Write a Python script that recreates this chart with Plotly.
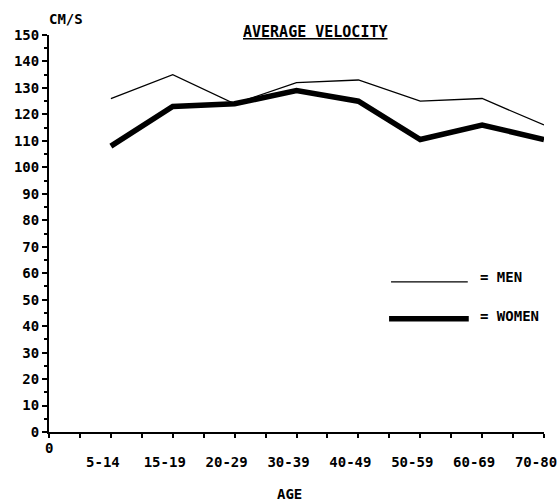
import plotly.graph_objects as go

age_groups = ["5-14", "15-19", "20-29", "30-39", "40-49", "50-59", "60-69", "70-80"]
men = [126, 135, 124, 132, 133, 125, 126, 116]
women = [108, 123, 124, 129, 125, 110.5, 116, 110.5]
y_ticks = list(range(0, 151, 10))

xpos = list(range(1, len(age_groups) + 1))
FONT = "DejaVu Sans Mono"
F = dict(family=FONT, size=14, color="black", weight="bold")

fig = go.Figure()
fig.add_trace(go.Scatter(x=xpos, y=men, mode="lines",
                         line=dict(color="black", width=1.3), name="MEN"))
fig.add_trace(go.Scatter(x=xpos, y=women, mode="lines",
                         line=dict(color="black", width=5.5), name="WOMEN"))

fig.update_layout(
    width=559, height=503,
    margin=dict(l=49, r=15, t=35, b=71, autoexpand=False),
    paper_bgcolor="white", plot_bgcolor="white",
    showlegend=False,
    font=F,
    xaxis=dict(
        range=[0, 8], showgrid=False, zeroline=False, automargin=False,
        showline=True, linecolor="black", linewidth=2,
        tickmode="array", tickvals=xpos, ticktext=age_groups,
        ticks="outside", ticklen=4, tickwidth=1.5, tickcolor="black",
        minor=dict(tickmode="array", tickvals=[i * 0.5 for i in range(0, 17)],
                   ticks="outside", ticklen=4, tickwidth=1.5, tickcolor="black"),
        ticklabelstandoff=12, ticklabelshift=-8, ticklabeloverflow="allow",
        tickfont=F,
    ),
    yaxis=dict(
        range=[0, 150], showgrid=False, zeroline=False, automargin=False,
        showline=True, linecolor="black", linewidth=2,
        tickmode="array", tickvals=y_ticks,
        ticks="outside", ticklen=5, tickwidth=1.5, tickcolor="black",
        minor=dict(tickmode="array", tickvals=list(range(5, 150, 10)),
                   ticks="outside", ticklen=3, tickwidth=1.5, tickcolor="black"),
        tickfont=F,
    ),
)

# "0" at x-origin
fig.add_annotation(x=0, y=0, xref="x", yref="paper", text="0", showarrow=False,
                   yanchor="top", yshift=-6, font=F)
# Units
fig.add_annotation(x=0, y=1, xref="x", yref="paper", text="CM/S", showarrow=False,
                   xanchor="left", yanchor="bottom", yshift=6, xshift=-2, font=F)
# Title
fig.add_annotation(x=0.539, y=1.008, xref="paper", yref="paper",
                   text="<u>AVERAGE VELOCITY</u>", yanchor="middle",
                   showarrow=False, font=dict(family=FONT, size=15, color="black", weight="bold"))
# X title
fig.add_annotation(x=0.485, y=-0.156, xref="paper", yref="paper", text="AGE",
                   yanchor="middle", showarrow=False, font=F)

# Legend (drawn manually)
fig.add_shape(type="line", xref="paper", yref="paper", x0=0.691, x1=0.846, y0=0.378, y1=0.378,
              line=dict(color="black", width=1.3))
fig.add_shape(type="line", xref="paper", yref="paper", x0=0.687, x1=0.848, y0=0.285, y1=0.285,
              line=dict(color="black", width=5.5))
fig.add_annotation(x=0.866, y=0.39, xref="paper", yref="paper", text="= MEN",
                   xanchor="left", yanchor="middle", showarrow=False, font=F)
fig.add_annotation(x=0.866, y=0.293, xref="paper", yref="paper", text="= WOMEN",
                   xanchor="left", yanchor="middle", showarrow=False, font=F)

fig.write_html("out.html")
